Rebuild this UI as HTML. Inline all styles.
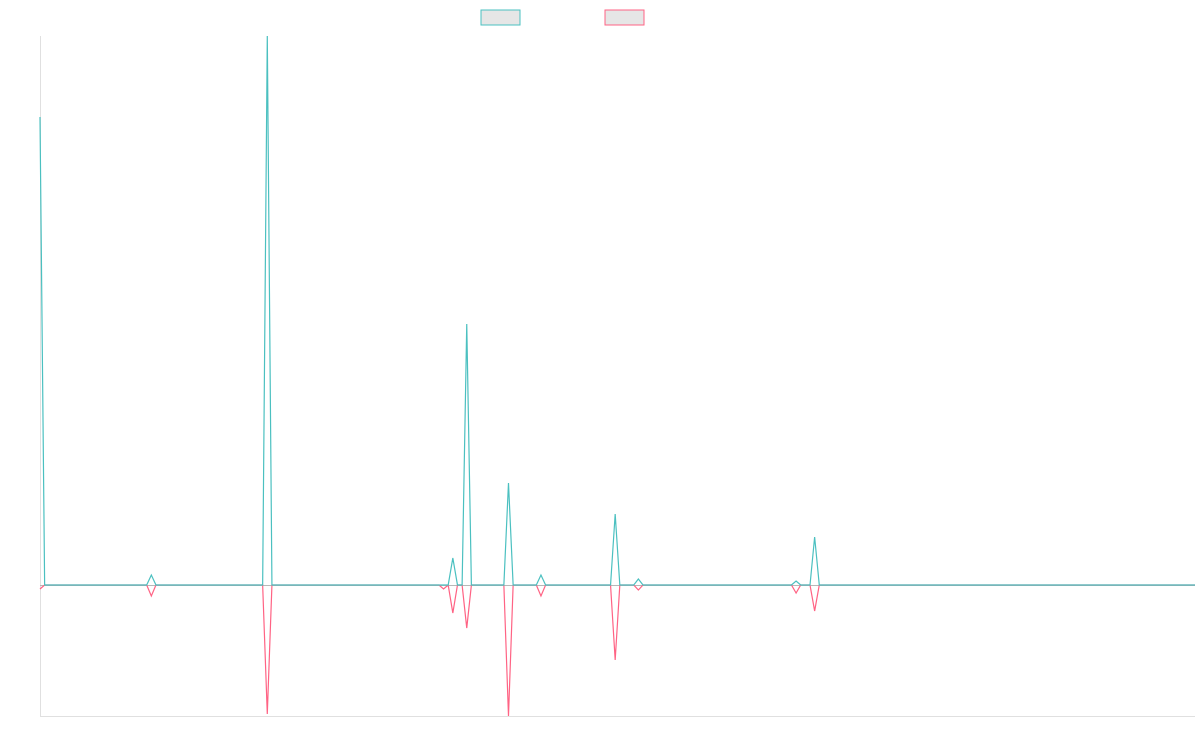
<!DOCTYPE html>
<html><head><meta charset="utf-8"><style>
body{margin:0;background:#fff;font-family:"Liberation Sans",sans-serif}
svg{display:block}
</style></head><body>
<svg id="chart" width="1200" height="750">
<rect x="481" y="10" width="39" height="15" fill="#e6e6e6" stroke="rgb(75,192,192)"/>
<rect x="605" y="10" width="39" height="15" fill="#e6e6e6" stroke="rgb(255,99,132)"/>
<line x1="40.5" y1="36" x2="40.5" y2="716" stroke="#e0e0e0"/>
<line x1="40" y1="716.5" x2="1195" y2="716.5" stroke="#e0e0e0"/>
<g id="plot"></g>
</svg>
<script>
const pointCount = 250;
const spikeIndex = [0, 24, 49, 87, 89, 92, 101, 108, 124, 129, 163, 167];
const tealValues = [468, 10, 560, 0, 27, 261, 102, 10, 71, 6, 4, 48];
const pinkValues = [-4, -11, -129, -4, -28, -43, -131, -11, -75, -5, -8, -26];
const yMin = -131, yMax = 549;
const x0 = 40, x1 = 1195, yTop = 36, yBot = 716;
function xScale(i){ return x0 + i*(x1-x0)/(pointCount-1); }
function yScale(v){ return yBot - (v - yMin)/(yMax - yMin)*(yBot - yTop); }
function series(vals){
  const arr = new Array(pointCount).fill(0);
  spikeIndex.forEach((ix,k)=>{arr[ix]=vals[k];});
  return arr;
}
const ns = "http://www.w3.org/2000/svg";
const g = document.getElementById('plot');
const zl = document.createElementNS(ns,'line');
zl.setAttribute('x1',x0);zl.setAttribute('x2',x1);
zl.setAttribute('y1',yScale(0)+0.5);zl.setAttribute('y2',yScale(0)+0.5);
zl.setAttribute('stroke','#b8b8b8');


g.appendChild(zl);
function draw(vals,color,name){
  const d = series(vals).map((v,i)=>(i?'L':'M')+xScale(i).toFixed(2)+','+Math.max(yTop,yScale(v)).toFixed(2)).join('');
  const p = document.createElementNS(ns,'path');
  p.setAttribute('d',d);p.setAttribute('fill','none');p.setAttribute('stroke',color);p.setAttribute('stroke-width','1.2');
  
  
  g.appendChild(p);
}
draw(pinkValues,'rgb(255,99,132)','pink-series-line');
draw(tealValues,'rgb(75,192,192)','teal-series-line');
</script>
</body></html>
